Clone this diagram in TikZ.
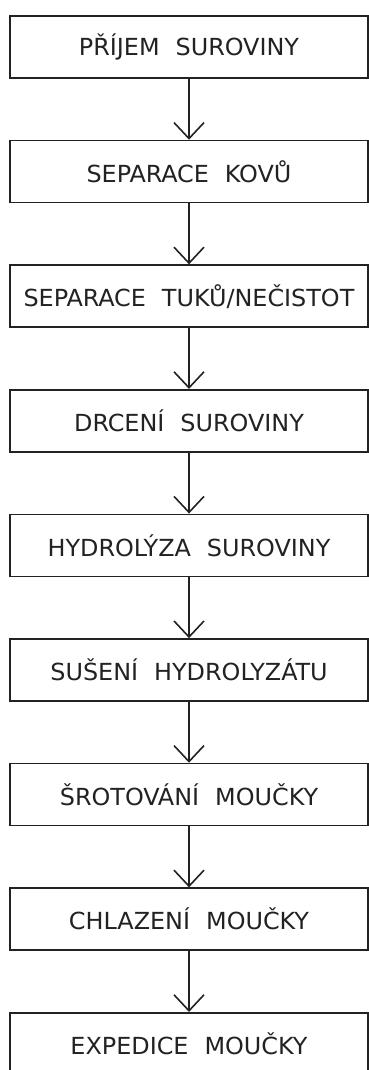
\documentclass[tikz,border=0pt]{standalone}
\usepackage{fontspec}
\setmainfont[FakeStretch=1.13]{DejaVu Sans Condensed}
\usetikzlibrary{arrows.meta}
\definecolor{ink}{HTML}{222222}
\newcommand{\wg}{\hspace{16pt}}
\tikzset{
  stepbox/.style={draw=ink, line width=1.7pt, rectangle, minimum width=358pt,
    minimum height=62pt, inner sep=0pt, text=ink,
    font=\fontsize{23.5}{25}\selectfont},
  flow/.style={draw=ink, line width=1.6pt,
    -{Straight Barb[length=16pt, width=30pt, line width=1.6pt]}}
}
\begin{document}
\begin{tikzpicture}[x=1pt, y=-1pt]
\useasboundingbox (0,0) rectangle (369,1070);
\node[stepbox] (s1) at (189, 47.0) {PŘÍJEM\wg SUROVINY};
\node[stepbox] (s2) at (189,171.6) {SEPARACE\wg KOVŮ};
\node[stepbox] (s3) at (189,296.2) {SEPARACE\wg TUKŮ/NEČISTOT};
\node[stepbox] (s4) at (189,420.8) {DRCENÍ\wg SUROVINY};
\node[stepbox] (s5) at (189,545.4) {HYDROLÝZA\wg SUROVINY};
\node[stepbox] (s6) at (189,670.0) {SUŠENÍ\wg HYDROLYZÁTU};
\node[stepbox] (s7) at (189,794.6) {ŠROTOVÁNÍ\wg MOUČKY};
\node[stepbox] (s8) at (189,919.2) {CHLAZENÍ\wg MOUČKY};
\node[stepbox] (s9) at (189,1043.8) {EXPEDICE\wg MOUČKY};
\foreach \a/\b in {s1/s2,s2/s3,s3/s4,s4/s5,s5/s6,s6/s7,s7/s8,s8/s9}
  \draw[flow] (\a.south) -- (\b.north);
\end{tikzpicture}
\end{document}
